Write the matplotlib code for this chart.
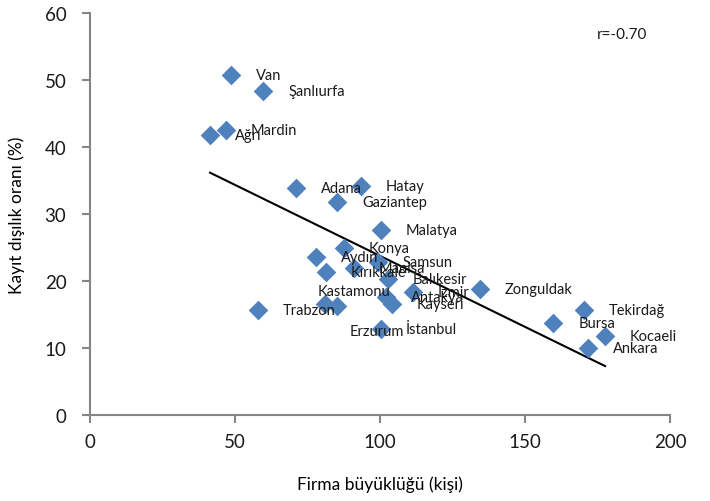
import matplotlib
matplotlib.use("Agg")
import matplotlib.pyplot as plt
import numpy as np

plt.rcParams['font.family'] = ['Lato', 'DejaVu Sans']

provinces = ["Van", "Şanlıurfa", "Mardin", "Ağrı", "Adana", "Hatay", "Gaziantep",
             "Malatya", "Konya", "Aydın", "Kırıkkale", "Manisa", "Samsun",
             "Balıkesir", "İzmir", "Antakya", "Kayseri", "Kastamonu", "Erzurum",
             "İstanbul", "Trabzon", "Zonguldak", "Bursa", "Tekirdağ", "Kocaeli",
             "Ankara"]
firm_size = [48.6, 59.7, 46.9, 41.4, 71.0, 93.4, 85.2,
             100.3, 87.6, 77.9, 81.4, 91.0, 99.3,
             102.8, 111.4, 102.1, 104.1, 81.0, 85.2,
             100.3, 57.9, 134.5, 159.7, 170.3, 177.6,
             171.7]
informality = [50.7, 48.4, 42.5, 41.8, 33.9, 34.2, 31.8,
               27.6, 24.9, 23.6, 21.3, 21.9, 22.8,
               20.3, 18.4, 17.6, 16.6, 16.6, 16.3,
               12.8, 15.7, 18.8, 13.7, 15.7, 11.8,
               10.0]
x_ticks = [0, 50, 100, 150, 200]
y_ticks = [0, 10, 20, 30, 40, 50, 60]

# label offsets in points (default: right of marker)
default_offset = (18, 0)
label_offsets = {"Kastamonu": (-5, 9), "Erzurum": (9, -18)}

fig = plt.figure(figsize=(7.10, 5.02), dpi=100)
ax = fig.add_axes([90/710, 86/502, 580/710, 402/502])

x = np.array(firm_size)
y = np.array(informality)
ax.scatter(x, y, marker='D', s=100, color='#4F81BD', zorder=3, linewidths=0)

# linear trend line
slope, intercept = np.polyfit(x, y, 1)
xl = np.array([x.min(), x.max()])
ax.plot(xl, slope * xl + intercept, color='black', lw=1.5, zorder=2)

for name, xi, yi in zip(provinces, firm_size, informality):
    off = label_offsets.get(name, default_offset)
    ax.annotate(name, (xi, yi), xytext=off, textcoords='offset points',
                ha='left', va='center', fontsize=10.5, color='#1a1a1a', zorder=4)

ax.text(0.917, 0.948, "r=-0.70", transform=ax.transAxes, ha='center', va='center',
        fontsize=11, color='#1a1a1a')

ax.set_xlim(0, 200)
ax.set_ylim(0, 60)
ax.set_xticks(x_ticks)
ax.set_yticks(y_ticks)
ax.tick_params(axis='both', direction='out', length=6, width=1.5, color='#868686',
               labelsize=13.5, labelcolor='#1a1a1a')
ax.tick_params(axis='y', pad=11)
ax.tick_params(axis='x', pad=7)
for side in ['top', 'right']:
    ax.spines[side].set_visible(False)
for side in ['left', 'bottom']:
    ax.spines[side].set_color('#868686')
    ax.spines[side].set_linewidth(1.5)

ax.set_xlabel("Firma büyüklüğü (kişi)", fontsize=12.5, labelpad=18)
ax.set_ylabel("Kayıt dışılık oranı (%)", fontsize=12.5, labelpad=14)

fig.savefig("out.png", dpi=100)
